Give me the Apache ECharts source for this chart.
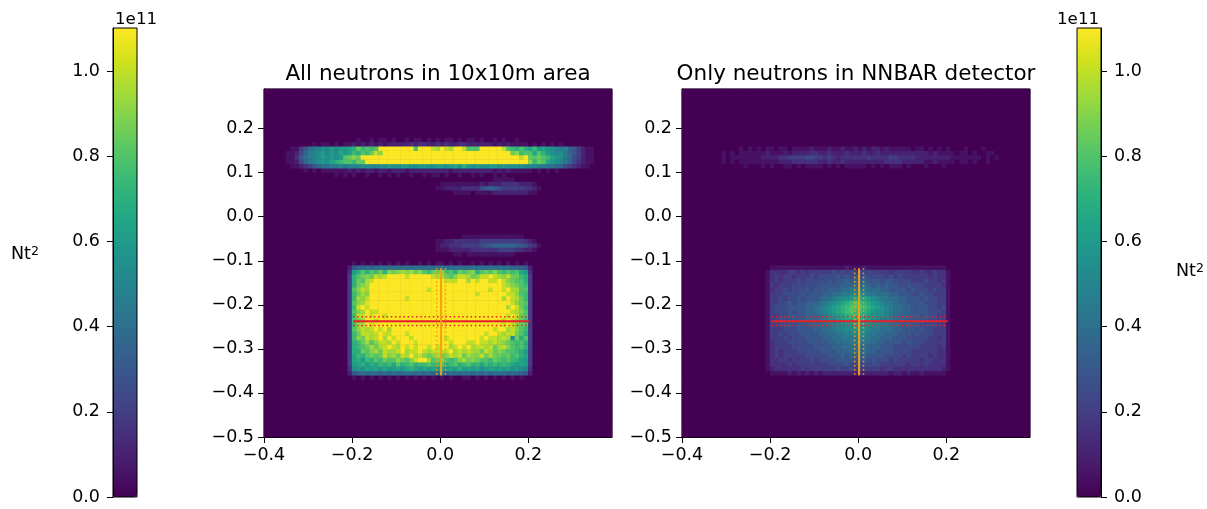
<!DOCTYPE html>
<html><head><meta charset="utf-8">
<style>html,body{margin:0;padding:0;background:#fff}#c{width:1207px;height:509px;filter:blur(0.55px)}</style>
<script src="https://cdn.jsdelivr.net/npm/echarts@6/dist/echarts.min.js"></script>
</head><body><div id="c"></div>
<script>
// Cell levels: one base-36 character per 0.01 x 0.01 bin, unit 0.05e11.
const leftTopBandRows = [ // y bins 0.17 down to 0.09, x bins from -0.40
"0000000000 0000000000 0100101101 0010110101 0110101101 0010100100 0000000000 000000000",
"0000000000 0101101011 2121212122 2223233223 2322332222 2212121111 0101010100 000000000",
"0000001146 89abacbccd ehfgfgmmmm mmmmgmmmkj mkjmmkgggm mmmmkgfege dfcdcba9a7 642110000",
"0000011257 9abcacbdcd fegfhkimmm mmmmmmmmmm mmmmmmmmmm mmmmmmhifg gdgecbab97 642110000",
"0000011368 9abcbcbcgh ihmmmmmmmm mmmmmmmmmm mmmmmmmmmm mmmmmmmmkm hghgfdcb98 542110000",
"0000011257 9abcbdefgg fhhmmmmmmm mmmmmmmmmm mmmmmmmmmm mmmmmmmmmm ifhgdcba97 532110000",
"0000001123 4678899a9a aabbaabbcb bccbbccbbc cbcdbecbcb bccbcbbbba aa99887754 321100000",
"0000000001 0101111112 1212212212 2212222222 2212222222 2212121111 1010101000 000000000",
"0000000000 0000001010 1001001010 1001001011 0100100101 0010100000 0000000000 000000000"
];
const leftUpperFaintRows = [ // y bins 0.08 to 0.05, x bins from -0.04
"00000000000000001111100000000",
"00001111111112122233332221000",
"00011222233335676544444332100",
"00000001111011112222222211000"
];
const leftLowerFaintRows = [ // y bins -0.05 to -0.09, x bins from -0.04
"00000000011111111111111000000",
"00011223333334444444444321000",
"00012233344445667777766543100",
"00011122222333333444433221000",
"00000001101111111111100000000"
];
const leftBoxRows = [ // y bins -0.11 down to -0.37, x bins from -0.21
"0 1010101010 1010010101 1010100101 0101010101 0",
"2 6778788888 8888888888 8888888888 8888887776 2",
"3 cegegfheih ijijhigfhh ifgehghieg hgigfgfgdc 3",
"4 eghihkjkmm mmkmmmmmkj jhgikkjhik kmkjikhhfe 4",
"4 ehgjkmmmmm mmmmmmmmmm mkkkmmjmkm mkkmkihgge 4",
"4 ehijmmmmmm mmmmmmmmmm mmmmmmmmmm mmmmkjihgf 4",
"4 gikjmmmmmm mmmmmmmkmm mmmmmmmmmm mkmmkmjjgg 4",
"4 fhjimmmmmm mmmmmmmmmm mmmmmmmmkm mmmmmkkigf 4",
"4 fjikmmmmmm mmkmmmmmmm mmmmmmmmmm mmmmjmkjhf 4",
"4 gijlmmmmmm mmmmmmmmmm mmmmmmmmmm mmmmmmkihg 4",
"4 fkmkmmmmmm mmmmmmmmmm mmmmmmmmmm mmmmmjmkhf 4",
"4 gijmkkmmmm mmmmmmmmmm mmmmmmmmmm mmmmmmkjig 4",
"4 fkkmkmmkmm mmmmmmmmmm mmmmmmmmmm mmmmmkmkhg 4",
"4 ghjmmkmmmm mmmmmmmmmm mmmmmmmmmm mmmmkmkjhf 4",
"4 fjjmkmmmmm mmmmmmmmmm mmmmmmmmmm mmmmkmkihg 4",
"4 gikjkmkmjm mmmmmmmmmm mmmmmmmmmm mmkmmjkigf 4",
"4 fhkkjkmkkm mmkmmmmmmm mmmmmmmmmm kmmkjkkhge 4",
"4 fihkjkmjmk mmmkmmmmmm mkmmmmmmmk mkkjkjbheg 4",
"4 efhjgikkjm kmmmkmmmmm mmkmmmkkmk kjkjihgfge 4",
"4 efghjhjkmk jmkmkmmkmk mmjkmkmjkk jkhjkigfge 4",
"4 eehgijhkjj kmjkkmkjkk kkmjkjkjjh kjhihggfec 4",
"4 dfeghghkij hkjmjkihij hikjkhjiik hjhhghfged 4",
"4 decfegfhgg ihgikmmjgh igfgijhihg gfhgfgfedc 4",
"4 cdecedfefd gefgeffgff gefgefgefd fefefedcdc 4",
"3 bcbdcdcdcc dcdedcdcdc dcdcecdcdb cdcdcdbcba 3",
"2 6787887878 7888787878 8788788787 8788878776 2",
"0 1010101010 1010101010 1010011010 1010101010 0"
];
const rightBandRows = [ // y bins 0.15 down to 0.11, x bins from -0.40
"0000000000 0001010101 1011011112 1112112112 1212212111 1101101010 1000100010 000000000",
"0000000001 0101111112 1112122223 3223222322 2322322222 2222221211 1101101001 100000000",
"0000000001 0111111122 2233444455 4434323333 3343333443 3332222222 2111111101 010000000",
"0000000001 0101111111 1122233333 3223223222 2222223333 2222211211 1101101001 000000000",
"0000000000 0000100010 1001101011 1101010111 1101010111 0100010001 0000000000 000000000"
];
const rightBoxRows = [ // y bins -0.12 down to -0.36, x bins from -0.21
"0 1111111111 1111111211 1211111111 1111111111 0",
"1 3333443434 4444545454 5454444344 4433433433 1",
"1 3434434445 4555565656 5655554545 4444443433 1",
"1 3434445455 5556566767 6766656655 5544454434 1",
"1 4344455555 5666667777 7876767665 5655544443 1",
"1 3445455565 6667778899 9988877666 6565554544 1",
"1 4445555656 66778899aa ba99888776 6655655444 1",
"1 4454556566 67889abbcd ddcba99887 7666565544 1",
"1 4455656667 789abcdefg fedcba9987 7666655544 1",
"1 4555666677 89abcdefgg gfedcba988 7766665545 1",
"1 4555656677 89abcdefgf fedcbba988 7766665554 1",
"1 4455666677 789abcdeff edccbba987 7766565544 1",
"1 4556566677 789aabcdde dccba99887 7666655544 1",
"1 4455656667 78899abbcd cbbaa99887 6766555544 1",
"1 4445556666 77889aabbc bba9988877 6665655444 1",
"1 4454555666 6778899aaa ba99887776 6656555444 1",
"1 4445455566 6677889999 a998877766 6555554434 1",
"1 3444555556 6667788899 9988776666 5655544444 1",
"1 3444455555 6666778888 8877766655 5555444434 1",
"1 3434445555 5666677788 7877666655 5544444433 1",
"1 3434444455 5556667677 7766665555 4544443433 1",
"1 3344344445 4555566666 6656555454 4444344333 1",
"1 3333434444 4445555655 5555544444 4344343333 1",
"1 2333333434 4444454454 4444434433 3333333332 1",
"0 1111212121 2122222222 2222222122 1211211111 0"
];
const xBins = Array.from({length: 79}, (_, i) => ((i - 40) / 100).toFixed(2));
const yBins = Array.from({length: 79}, (_, i) => ((i - 50) / 100).toFixed(2));
const xTickValues = [-0.4, -0.2, 0, 0.2];
const yTickValues = [-0.5, -0.4, -0.3, -0.2, -0.1, 0, 0.1, 0.2];
const barTickValues = [0, 0.2, 0.4, 0.6, 0.8, 1.0];
const barMax = 1.101;
const leftH = {y: [-0.237, -0.237], x: [-0.198, 0.202], upper: -0.227, lower: -0.247};
const leftV = {x: 0.002, y: [-0.117, -0.36], l: -0.008, r: 0.012};
const rightH = {y: [-0.237, -0.237], x: [-0.197, 0.203], upper: -0.227, lower: -0.247};
const rightV = {x: 0.002, y: [-0.117, -0.36], l: -0.008, r: 0.012};
const viridis = ['#440154','#481a6c','#472f7d','#414487','#39568c','#31688e','#2a788e','#23888e','#1f988b','#22a884','#35b779','#54c568','#7ad151','#a5db36','#d2e21b','#fde725'];
const FONT = 'DejaVu Sans';

function buildCells(patches) {
  const m = new Map();
  patches.forEach(p => p.rows.forEach((row, r) => {
    row.replace(/\s/g, '').split('').forEach((ch, c) => {
      m.set((p.col + c) + ',' + (p.row - r), parseInt(ch, 36) * 0.05);
    });
  }));
  const out = [];
  xBins.forEach((_, i) => yBins.forEach((_, j) => out.push([i, j, m.get(i + ',' + j) || 0])));
  return out;
}
const leftCells = buildCells([
  {col: 0, row: 67, rows: leftTopBandRows},
  {col: 36, row: 58, rows: leftUpperFaintRows},
  {col: 36, row: 45, rows: leftLowerFaintRows},
  {col: 19, row: 39, rows: leftBoxRows}
]);
const rightCells = buildCells([
  {col: 0, row: 65, rows: rightBandRows},
  {col: 19, row: 38, rows: rightBoxRows}
]);
const fmt = v => {
  const s = Math.abs(v) < 1e-9 ? '0.0' : v.toFixed(1);
  return s.replace('-', '\u2212');
};
function axisStyle(values, margin, pad) {
  return {
    axisLine: {show: true, onZero: false, lineStyle: {color: '#000', width: 1}},
    axisTick: {show: true, length: 6, customValues: values, lineStyle: {color: '#000', width: 1}},
    axisLabel: {color: '#000', fontSize: 17.5, fontFamily: FONT, formatter: fmt, margin, customValues: values, padding: pad},
    splitLine: {show: false}
  };
}
function line(xAxisIndex, yAxisIndex, xs, ys, color, dotted) {
  return {
    type: 'line', xAxisIndex, yAxisIndex, silent: true, symbol: 'none', z: 5, animation: false,
    data: [[xs[0], ys[0]], [xs[1], ys[1]]],
    lineStyle: dotted ? {color, width: 1.5, type: [1.5, 2.7]} : {color, width: 2}
  };
}
function marks(xi, yi, H, V) {
  return [
    line(xi, yi, H.x, H.y, '#e8202a', false),
    line(xi, yi, H.x, [H.upper, H.upper], '#e8202a', true),
    line(xi, yi, H.x, [H.lower, H.lower], '#e8202a', true),
    line(xi, yi, [V.x, V.x], V.y, '#f5a010', false),
    line(xi, yi, [V.l, V.l], V.y, '#f5a010', true),
    line(xi, yi, [V.r, V.r], V.y, '#f5a010', true)
  ];
}
function vm(seriesIndex, left) {
  return {
    type: 'continuous', seriesIndex, min: 0, max: barMax, dimension: 2, calculable: false, hoverLink: false,
    realtime: false, left, top: 28, itemWidth: 24, itemHeight: 469, padding: 0, z: 0, showLabel: false,
    inRange: {color: viridis}, text: null
  };
}
const titleStyle = {color: '#000', fontWeight: 'normal', fontFamily: FONT, fontSize: 21.5};
const smallStyle = {color: '#000', fontWeight: 'normal', fontFamily: FONT, fontSize: 16.7};
const ntRich = {
  color: '#000', fontFamily: FONT, fontSize: 17.5, fontWeight: 'normal',
  rich: {s: {fontSize: 12.5, fontWeight: 'normal', verticalAlign: 'top', lineHeight: 17, color: '#000', fontFamily: FONT, padding: [0, 0, 8, 0]},
         b: {fontSize: 17.5, fontWeight: 'normal', color: '#000', fontFamily: FONT}}
};
const plainGrid = {show: true, borderColor: '#000', borderWidth: 1, z: 1};
const option = {
  animation: false,
  backgroundColor: '#fff',
  title: [
    {text: 'All neutrons in 10x10m area', left: 438, top: 63, textAlign: 'center', textStyle: titleStyle, padding: 0},
    {text: 'Only neutrons in NNBAR detector', left: 856, top: 63, textAlign: 'center', textStyle: titleStyle, padding: 0},
    {text: '1e11', left: 115, top: 11, textStyle: smallStyle, padding: 0},
    {text: '1e11', left: 1057, top: 11, textStyle: smallStyle, padding: 0},
    {text: '{b|Nt}{s|2}', left: 11, top: 245, textStyle: ntRich, padding: 0},
    {text: '{b|Nt}{s|2}', left: 1176, top: 262, textStyle: ntRich, padding: 0}
  ],
  visualMap: [vm(0, 113), vm(1, 1077)],
  grid: [
    {...plainGrid, left: 264, top: 89, width: 348, height: 348, backgroundColor: '#440154'},
    {...plainGrid, left: 682, top: 89, width: 348, height: 348, backgroundColor: '#440154'},
    {...plainGrid, left: 113, top: 28, width: 24, height: 469},
    {...plainGrid, left: 1077, top: 28, width: 24, height: 469}
  ],
  xAxis: [
    {type: 'category', gridIndex: 0, data: xBins, show: false},
    {type: 'value', gridIndex: 0, min: -0.4, max: 0.39, position: 'bottom', ...axisStyle(xTickValues, 8, [1, 0, 0, 0])},
    {type: 'category', gridIndex: 1, data: xBins, show: false},
    {type: 'value', gridIndex: 1, min: -0.4, max: 0.39, position: 'bottom', ...axisStyle(xTickValues, 8, [1, 0, 0, 0])},
    {type: 'value', gridIndex: 2, min: 0, max: 1, show: false},
    {type: 'value', gridIndex: 3, min: 0, max: 1, show: false}
  ],
  yAxis: [
    {type: 'category', gridIndex: 0, data: yBins, show: false},
    {type: 'value', gridIndex: 0, min: -0.5, max: 0.29, position: 'left', ...axisStyle(yTickValues, 10, [3, 0, 0, 0])},
    {type: 'category', gridIndex: 1, data: yBins, show: false},
    {type: 'value', gridIndex: 1, min: -0.5, max: 0.29, position: 'left', ...axisStyle(yTickValues, 10, [3, 0, 0, 0])},
    {type: 'value', gridIndex: 2, min: 0, max: barMax, position: 'left', ...axisStyle(barTickValues, 13, [3, 0, 0, 0])},
    {type: 'value', gridIndex: 3, min: 0, max: barMax, position: 'right', ...axisStyle(barTickValues, 13, [3, 0, 0, 0])}
  ],
  series: [
    {type: 'heatmap', xAxisIndex: 0, yAxisIndex: 0, data: leftCells, progressive: 0, silent: true, itemStyle: {borderWidth: 0}},
    {type: 'heatmap', xAxisIndex: 2, yAxisIndex: 2, data: rightCells, progressive: 0, silent: true, itemStyle: {borderWidth: 0}},
    ...marks(1, 1, leftH, leftV),
    ...marks(3, 3, rightH, rightV)
  ]
};
const chart = echarts.init(document.getElementById('c'), null, {renderer: 'canvas'});
chart.setOption(option);
</script></body></html>
